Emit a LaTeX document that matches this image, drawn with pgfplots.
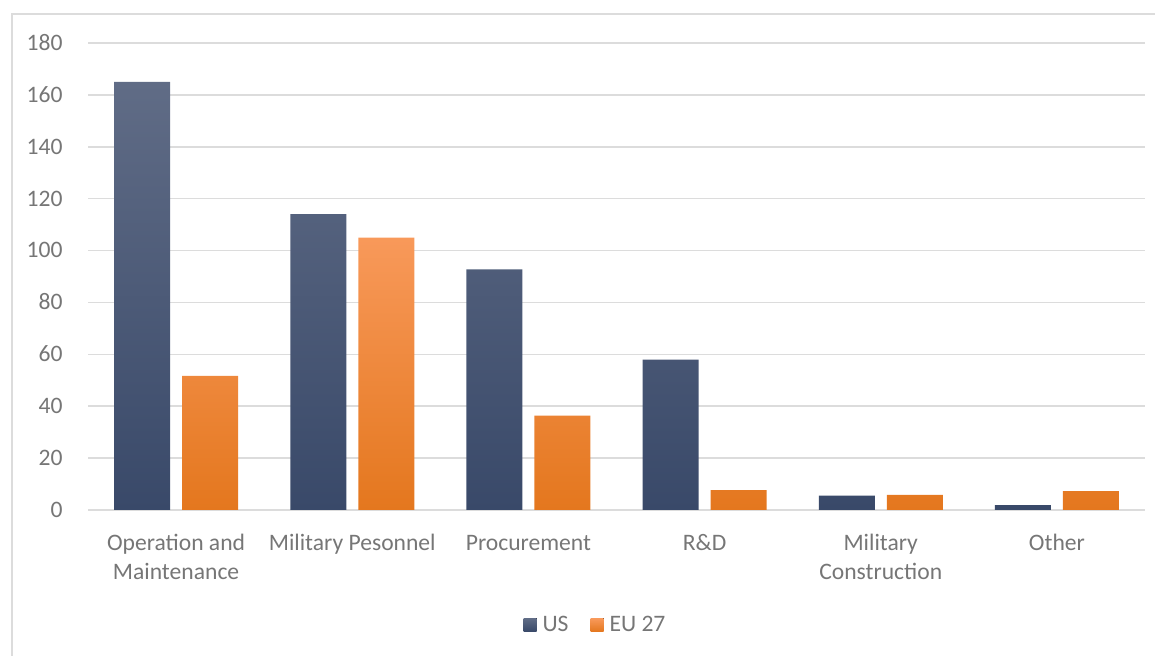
\documentclass[border=0pt]{standalone}
\usepackage{pgfplots}
\pgfplotsset{compat=1.18}
\usepackage{fontspec}
\setmainfont{Carlito}

\definecolor{txtgray}{RGB}{118,118,118}
\definecolor{gridgray}{RGB}{220,220,220}
\definecolor{ustop}{RGB}{96,108,134}
\definecolor{usmid}{RGB}{68,84,116}
\definecolor{usbot}{RGB}{57,73,105}
\definecolor{eutop}{RGB}{248,153,90}
\definecolor{eumid}{RGB}{250,140,50}
\definecolor{eubot}{RGB}{228,119,30}

\begin{document}
\begin{tikzpicture}[font=\fontsize{11.8}{14.5}\selectfont]
\useasboundingbox (0,0) rectangle (577.5pt,328pt);
% chart frame
\draw[gridgray, line width=1pt] (6pt,-2pt) -- (6pt,321pt) -- (580pt,321pt);

\begin{axis}[
    at={(44pt,73pt)}, anchor=south west,
    scale only axis,
    width=528.5pt, height=233.5pt,
    ybar=6pt, bar width=28pt,
    xmin=-0.5, xmax=5.5,
    ymin=0, ymax=180,
    ytick={0,20,...,180},
    xtick={0,...,5},
    xticklabels={Operation and\\Maintenance, Military Pesonnel, Procurement, R\&D, Military\\Construction, Other},
    axis line style={draw=none},
    major tick length=0pt,
    ymajorgrids,
    grid style={gridgray, line width=0.8pt},
    tick label style={text=txtgray},
    /pgf/number format/assume math mode=true,
    yticklabel style={inner sep=0pt, anchor=east, xshift=-12.5pt, yshift=-0.8pt},
    xticklabel style={inner sep=0pt, anchor=north, yshift=-10pt, align=center},
    typeset ticklabels with strut,
    legend style={draw=none, fill=none, text=txtgray,
        at={(0.482,0)}, anchor=center, yshift=-57.5pt,
        legend columns=-1,
        /tikz/every even column/.append style={column sep=8pt},
        nodes={inner sep=3pt}},
]
\addplot[draw=none, top color=ustop, middle color=usmid, bottom color=usbot,
    legend image code/.code={\fill[top color=ustop, bottom color=usbot] (0pt,-3.25pt) rectangle (6.5pt,3.25pt);}]
    coordinates {(0,165) (1,114) (2,92.7) (3,58) (4,5.5) (5,1.9)};
\addplot[draw=none, top color=eutop, middle color=eumid, bottom color=eubot,
    legend image code/.code={\fill[top color=eutop, bottom color=eubot] (0pt,-3.25pt) rectangle (6.5pt,3.25pt);}]
    coordinates {(0,51.7) (1,105) (2,36.4) (3,7.7) (4,5.8) (5,7.3)};
\legend{US, EU 27}
\end{axis}
\end{tikzpicture}
\end{document}
